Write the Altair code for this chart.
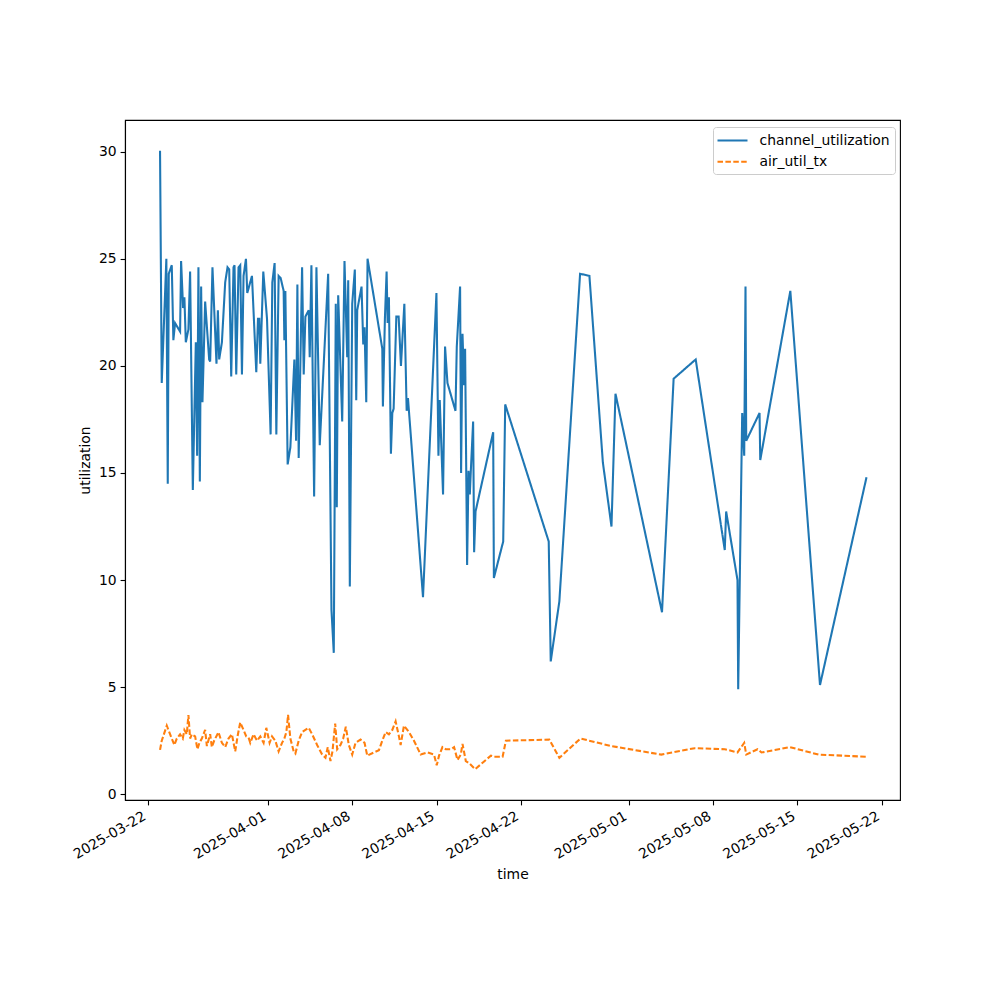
import altair as alt
import pandas as pd

# channel_utilization series
cu_time = [
    "2025-03-23 00:24", "2025-03-23 03:48", "2025-03-23 13:00", "2025-03-23 15:48", "2025-03-23 17:48",
    "2025-03-23 23:48", "2025-03-24 03:00", "2025-03-24 06:24", "2025-03-24 16:24", "2025-03-24 18:24",
    "2025-03-24 22:24", "2025-03-25 01:00", "2025-03-25 03:48", "2025-03-25 09:00", "2025-03-25 12:24",
    "2025-03-25 17:48", "2025-03-25 23:48", "2025-03-26 02:24", "2025-03-26 05:00", "2025-03-26 07:48",
    "2025-03-26 10:24", "2025-03-26 13:00", "2025-03-26 18:24", "2025-03-27 02:24", "2025-03-27 04:24",
    "2025-03-27 09:00", "2025-03-27 17:00", "2025-03-27 19:48", "2025-03-27 22:24", "2025-03-28 03:48",
    "2025-03-28 10:24", "2025-03-28 15:00", "2025-03-28 18:24", "2025-03-28 22:24", "2025-03-29 03:00",
    "2025-03-29 05:00", "2025-03-29 08:24", "2025-03-29 13:00", "2025-03-29 16:24", "2025-03-29 19:48",
    "2025-03-29 23:00", "2025-03-30 03:48", "2025-03-30 06:24", "2025-03-30 15:48", "2025-03-31 00:24",
    "2025-03-31 03:48", "2025-03-31 06:24", "2025-03-31 08:24", "2025-03-31 14:24", "2025-03-31 21:48",
    "2025-04-01 05:00", "2025-04-01 08:24", "2025-04-01 13:00", "2025-04-01 16:24", "2025-04-01 21:00",
    "2025-04-02 01:00", "2025-04-02 07:00", "2025-04-02 08:24", "2025-04-02 10:24", "2025-04-02 15:00",
    "2025-04-02 20:24", "2025-04-03 04:24", "2025-04-03 07:48", "2025-04-03 10:24", "2025-04-03 13:00",
    "2025-04-03 19:48", "2025-04-03 23:00", "2025-04-04 02:24", "2025-04-04 09:00", "2025-04-04 11:00",
    "2025-04-04 14:24", "2025-04-04 19:48", "2025-04-05 00:24", "2025-04-05 07:00", "2025-04-05 23:48",
    "2025-04-06 06:24", "2025-04-06 11:00", "2025-04-06 15:00", "2025-04-06 17:00", "2025-04-06 19:48",
    "2025-04-07 03:48", "2025-04-07 08:24", "2025-04-07 13:48", "2025-04-07 15:48", "2025-04-07 19:00",
    "2025-04-07 23:48", "2025-04-08 05:00", "2025-04-08 07:48", "2025-04-08 09:48", "2025-04-08 18:24",
    "2025-04-08 21:48", "2025-04-09 00:24", "2025-04-09 03:48", "2025-04-09 06:24", "2025-04-10 11:48",
    "2025-04-10 13:00", "2025-04-10 17:00", "2025-04-10 20:24", "2025-04-10 22:24", "2025-04-11 01:00",
    "2025-04-11 05:00", "2025-04-11 07:48", "2025-04-11 10:24", "2025-04-11 15:48", "2025-04-11 20:24",
    "2025-04-12 01:00", "2025-04-12 07:48", "2025-04-12 12:24", "2025-04-12 15:00", "2025-04-13 21:00",
    "2025-04-14 23:48", "2025-04-15 03:48", "2025-04-15 06:24", "2025-04-15 13:00", "2025-04-15 17:00",
    "2025-04-15 21:48", "2025-04-16 13:48", "2025-04-16 16:24", "2025-04-16 23:00", "2025-04-17 01:00",
    "2025-04-17 03:48", "2025-04-17 07:00", "2025-04-17 09:00", "2025-04-17 13:00", "2025-04-17 15:48",
    "2025-04-17 18:24", "2025-04-17 20:24", "2025-04-18 01:00", "2025-04-18 03:00", "2025-04-18 05:48",
    "2025-04-19 17:00", "2025-04-19 18:24", "2025-04-20 13:00", "2025-04-20 17:00", "2025-04-24 07:48",
    "2025-04-24 11:48", "2025-04-25 05:00", "2025-04-26 22:24", "2025-04-27 17:00", "2025-04-28 19:48",
    "2025-04-29 13:00", "2025-04-29 21:00", "2025-05-03 17:48", "2025-05-04 17:00", "2025-05-06 13:00",
    "2025-05-08 23:00", "2025-05-09 01:48", "2025-05-10 00:24", "2025-05-10 01:48", "2025-05-10 09:48",
    "2025-05-10 13:48", "2025-05-10 16:24", "2025-05-10 17:48", "2025-05-11 20:24", "2025-05-11 21:48",
    "2025-05-14 09:48", "2025-05-16 21:00", "2025-05-20 17:48",
]
cu_value = [
    30.04, 19.2, 25.0, 14.5, 24.3, 24.7, 21.2, 22.0, 21.6, 24.9,
    22.7, 23.2, 21.1, 21.7, 24.4, 14.2, 21.1, 15.8, 24.6, 14.6,
    23.7, 18.3, 23.0, 20.3, 20.2, 24.6, 20.1, 22.6, 20.3, 21.1,
    23.9, 24.6, 24.5, 19.5, 24.6, 24.7, 19.6, 24.6, 24.7, 19.6,
    24.2, 25.0, 23.4, 24.2, 19.7, 22.2, 22.2, 20.1, 24.4, 22.2,
    16.8, 23.9, 24.8, 16.8, 24.2, 24.1, 23.5, 21.2, 23.5, 15.4,
    16.2, 20.3, 16.5, 23.8, 15.7, 24.6, 19.6, 22.3, 22.6, 20.4,
    24.7, 13.9, 24.6, 16.3, 24.3, 8.6, 6.6, 22.9, 13.4, 23.3,
    17.4, 24.9, 20.4, 24.0, 9.7, 22.9, 24.5, 18.4, 22.6, 23.7,
    21.0, 21.8, 18.3, 25.0, 20.8, 18.1, 22.2, 24.4, 22.0, 23.2,
    15.9, 17.8, 18.0, 22.3, 22.3, 20.0, 22.9, 17.9, 18.5, 9.2,
    23.4, 15.8, 18.4, 14.0, 20.9, 19.2, 17.9, 20.9, 23.7, 15.0,
    21.5, 19.1, 20.8, 10.7, 15.1, 14.0, 15.1, 17.4, 11.3, 13.2,
    16.9, 10.1, 11.8, 18.2, 11.8, 6.2, 9.0, 24.3, 24.2, 15.5,
    12.5, 18.7, 8.5, 19.4, 20.3, 11.4, 13.2, 10.0, 4.9, 17.8,
    15.8, 23.7, 16.5, 17.8, 15.6, 23.5, 5.1, 14.8,
]

# air_util_tx series
at_time = [
    "2025-03-23 00:24", "2025-03-23 03:48", "2025-03-23 13:48", "2025-03-23 20:24", "2025-03-24 05:00",
    "2025-03-24 09:48", "2025-03-24 16:24", "2025-03-24 21:48", "2025-03-25 01:00", "2025-03-25 05:48",
    "2025-03-25 09:00", "2025-03-25 12:24", "2025-03-25 15:48", "2025-03-25 22:24", "2025-03-26 03:00",
    "2025-03-26 07:00", "2025-03-26 11:48", "2025-03-26 18:24", "2025-03-26 21:48", "2025-03-27 04:24",
    "2025-03-27 07:48", "2025-03-27 12:24", "2025-03-27 21:00", "2025-03-28 03:48", "2025-03-28 10:24",
    "2025-03-28 17:00", "2025-03-28 23:48", "2025-03-29 06:24", "2025-03-29 11:00", "2025-03-29 16:24",
    "2025-03-29 23:00", "2025-03-30 04:24", "2025-03-30 09:00", "2025-03-30 12:24", "2025-03-30 19:00",
    "2025-03-31 01:48", "2025-03-31 08:24", "2025-03-31 15:00", "2025-03-31 20:24", "2025-04-01 03:00",
    "2025-04-01 07:48", "2025-04-01 14:24", "2025-04-01 21:00", "2025-04-02 03:48", "2025-04-02 08:24",
    "2025-04-02 12:24", "2025-04-02 15:48", "2025-04-02 20:24", "2025-04-03 03:00", "2025-04-03 06:24",
    "2025-04-03 13:00", "2025-04-03 19:48", "2025-04-04 02:24", "2025-04-04 09:00", "2025-04-04 15:48",
    "2025-04-05 01:48", "2025-04-05 11:48", "2025-04-05 18:24", "2025-04-05 23:00", "2025-04-06 04:24",
    "2025-04-06 08:24", "2025-04-06 13:48", "2025-04-06 17:48", "2025-04-07 00:24", "2025-04-07 05:48",
    "2025-04-07 11:00", "2025-04-07 17:00", "2025-04-07 23:48", "2025-04-08 06:24", "2025-04-08 16:24",
    "2025-04-09 00:24", "2025-04-09 05:48", "2025-04-09 19:00", "2025-04-10 05:00", "2025-04-10 11:48",
    "2025-04-10 18:24", "2025-04-11 01:00", "2025-04-11 07:48", "2025-04-11 14:24", "2025-04-11 21:00",
    "2025-04-12 00:24", "2025-04-12 07:00", "2025-04-12 17:00", "2025-04-13 03:00", "2025-04-13 16:24",
    "2025-04-14 05:48", "2025-04-14 19:00", "2025-04-15 00:24", "2025-04-15 05:00", "2025-04-15 11:48",
    "2025-04-15 18:24", "2025-04-16 04:24", "2025-04-16 11:00", "2025-04-16 17:48", "2025-04-17 00:24",
    "2025-04-17 03:48", "2025-04-17 10:24", "2025-04-17 17:00", "2025-04-18 05:00", "2025-04-19 12:24",
    "2025-04-19 18:24", "2025-04-20 11:48", "2025-04-20 18:24", "2025-04-24 09:00", "2025-04-25 05:00",
    "2025-04-26 23:00", "2025-04-29 12:24", "2025-05-03 16:24", "2025-05-06 11:00", "2025-05-08 23:00",
    "2025-05-10 00:24", "2025-05-10 13:48", "2025-05-10 17:48", "2025-05-11 16:24", "2025-05-12 00:24",
    "2025-05-14 09:00", "2025-05-16 17:48", "2025-05-20 18:24",
]
at_value = [
    2.07, 2.5, 3.2, 2.8, 2.3, 2.6, 2.8, 2.6, 3.0, 2.8,
    3.7, 2.6, 2.8, 2.7, 2.1, 2.4, 2.6, 3.0, 2.25, 2.8,
    2.2, 2.5, 2.9, 2.4, 2.2, 2.6, 2.8, 2.0, 2.7, 3.35,
    3.0, 2.7, 2.65, 2.4, 2.8, 2.5, 2.7, 2.4, 3.1, 2.4,
    2.7, 2.5, 2.0, 2.4, 2.6, 2.9, 3.7, 2.6, 2.0, 1.9,
    2.5, 2.9, 3.0, 3.1, 2.8, 2.3, 1.85, 1.7, 2.2, 1.55,
    2.0, 3.3, 2.1, 2.3, 2.6, 3.15, 2.3, 1.85, 2.4, 2.55,
    2.4, 1.8, 1.95, 2.05, 2.5, 2.9, 2.8, 3.0, 3.4, 2.7,
    2.3, 3.2, 2.9, 2.5, 1.85, 1.95, 1.85, 1.35, 1.8, 2.2,
    2.1, 2.1, 2.2, 1.6, 1.85, 2.35, 1.55, 1.45, 1.17, 1.8,
    1.75, 1.75, 2.5, 2.55, 1.7, 2.6, 2.25, 1.85, 2.15, 2.1,
    1.95, 2.4, 1.85, 2.1, 1.95, 2.2, 1.85, 1.75,
]

series_order = ["channel_utilization", "air_util_tx"]
colors = ["#1f77b4", "#ff7f0e"]
dashes = [[1, 0], [5.5, 2.4]]
y_ticks = [0, 5, 10, 15, 20, 25, 30]
x_tick_dates = [(3, 22), (4, 1), (4, 8), (4, 15), (4, 22), (5, 1), (5, 8), (5, 15), (5, 22)]

df = pd.concat([
    pd.DataFrame({"time": cu_time, "utilization": cu_value, "series": series_order[0]}),
    pd.DataFrame({"time": at_time, "utilization": at_value, "series": series_order[1]}),
], ignore_index=True)

FONT = "DejaVu Sans"
FS = 13.9

x_values = [alt.DateTime(year=2025, month=m, date=d) for m, d in x_tick_dates]

chart = alt.Chart(df).mark_line(strokeWidth=2.08, clip=True).encode(
    x=alt.X(
        "time:T",
        title="time",
        scale=alt.Scale(
            domain=[
                alt.DateTime(year=2025, month=3, date=20, hours=2, minutes=30),
                alt.DateTime(year=2025, month=5, date=23, hours=12, minutes=36),
            ],
            nice=False,
        ),
        axis=alt.Axis(
            values=x_values,
            format="%Y-%m-%d",
            labelAngle=-30,
            labelAlign="right",
            labelBaseline="top",
            labelOffset=-7,
            labelPadding=4,
            titlePadding=6,
            grid=False,
        ),
    ),
    y=alt.Y(
        "utilization:Q",
        title="utilization",
        scale=alt.Scale(domain=[-0.27, 31.48], nice=False, zero=False),
        axis=alt.Axis(values=y_ticks, grid=False, labelPadding=4, titlePadding=6),
    ),
    color=alt.Color(
        "series:N",
        scale=alt.Scale(domain=series_order, range=colors),
        legend=alt.Legend(
            title=None,
            orient="none",
            legendX=588,
            legendY=7,
            symbolType="M-1.2,0H2.8",
            symbolSize=225,
            symbolStrokeWidth=2.08,
            labelOffset=24,
            rowPadding=5.2,
            padding=4.5,
            strokeColor="#cccccc",
            fillColor="white",
            cornerRadius=3,
            labelFont=FONT,
            labelFontSize=FS,
            labelColor="black",
        ),
    ),
    strokeDash=alt.StrokeDash(
        "series:N",
        scale=alt.Scale(domain=series_order, range=dashes),
        legend=alt.Legend(title=None),
    ),
).properties(
    width=775,
    height=680,
    background="white",
    autosize=alt.AutoSizeParams(type="none"),
    padding={"left": 117, "top": 112, "right": 92, "bottom": 180},
).configure_view(
    stroke="black",
    strokeWidth=1.1,
).configure_axis(
    domainColor="black",
    domainWidth=1.1,
    tickColor="black",
    tickWidth=1.1,
    tickSize=4.9,
    labelFont=FONT,
    labelFontSize=FS,
    labelColor="black",
    titleFont=FONT,
    titleFontSize=FS,
    titleFontWeight="normal",
    titleColor="black",
)

chart.save("out.html", embed_options={"renderer": "svg", "actions": False})
